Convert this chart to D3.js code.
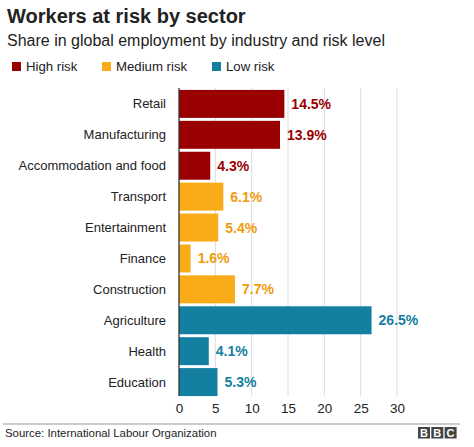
<!DOCTYPE html>
<html><head><meta charset="utf-8">
<script src="https://cdn.jsdelivr.net/npm/d3@7"></script>
<style>
body{margin:0;background:#fff;}
svg{display:block;font-family:"Liberation Sans",Arial,Helvetica,sans-serif;}
</style></head>
<body>
<script>
const categories = ["Retail","Manufacturing","Accommodation and food","Transport","Entertainment","Finance","Construction","Agriculture","Health","Education"];
const values = [14.5,13.9,4.3,6.1,5.4,1.6,7.7,26.5,4.1,5.3];
const risks = ["High risk","High risk","High risk","Medium risk","Medium risk","Medium risk","Medium risk","Low risk","Low risk","Low risk"];
const riskLevels = ["High risk","Medium risk","Low risk"];
const riskColors = ["#990000","#FAAB18","#1380A1"];
const xTicks = [0,5,10,15,20,25,30];

const W=474,H=447;
const svg=d3.select("body").append("svg").attr("width",W).attr("height",H);
const color=d3.scaleOrdinal().domain(riskLevels).range(riskColors);
const labelColor=d3.scaleOrdinal().domain(riskLevels).range(["#990000","#F09B0E","#1380A1"]);

svg.append("text").attr("x",7).attr("y",23).attr("font-size",20).attr("font-weight","bold").attr("fill","#222").text("Workers at risk by sector");
svg.append("text").attr("x",7).attr("y",46).attr("font-size",16).attr("fill","#222").text("Share in global employment by industry and risk level");

const legX=[12,102,212];
const leg=svg.selectAll("g.leg").data(riskLevels).join("g").attr("transform",(d,i)=>`translate(${legX[i]},62)`);
leg.append("rect").attr("width",9).attr("height",9).attr("fill",d=>color(d));
leg.append("text").attr("x",14).attr("y",9).attr("font-size",13.2).attr("fill","#222").text(d=>d);

const x=d3.scaleLinear().domain([0,30]).range([179,397]);
const y=d3.scaleBand().domain(categories).range([89,397]).paddingInner(0.095).paddingOuter(0.03);

const grid=svg.append("g");
grid.selectAll("line").data(xTicks.slice(1)).join("line")
 .attr("x1",d=>x(d)).attr("x2",d=>x(d)).attr("y1",88).attr("y2",396)
 .attr("stroke","#dcdcdc").attr("stroke-width",1);

svg.append("g").selectAll("rect").data(categories).join("rect")
 .attr("x",x(0)).attr("y",d=>y(d)).attr("height",y.bandwidth())
 .attr("width",(d,i)=>x(values[i])-x(0)).attr("fill",(d,i)=>color(risks[i]));

svg.append("g").selectAll("text").data(categories).join("text")
 .attr("x",(d,i)=>x(values[i])+7).attr("y",d=>y(d)+y.bandwidth()/2+5)
 .attr("font-size",14).attr("font-weight","bold").attr("fill",(d,i)=>labelColor(risks[i]))
 .text((d,i)=>values[i].toFixed(1)+"%");

svg.append("g").selectAll("text").data(categories).join("text")
 .attr("x",166).attr("y",d=>y(d)+y.bandwidth()/2+4.5).attr("text-anchor","end")
 .attr("font-size",13).attr("fill","#222").text(d=>d);

svg.append("line").attr("x1",x(0)).attr("x2",x(0)).attr("y1",88).attr("y2",396).attr("stroke","#333").attr("stroke-width",1.3);

const ax=svg.append("g").attr("transform","translate(0,396)")
 .call(d3.axisBottom(x).tickValues(xTicks).tickSize(0).tickPadding(7));
ax.select(".domain").remove();
ax.selectAll("text").attr("font-size",13.5).attr("fill","#222").attr("font-family","Liberation Sans,Arial,sans-serif");

svg.append("line").attr("x1",3).attr("x2",460).attr("y1",424).attr("y2",424).attr("stroke","#999").attr("stroke-width",1);
svg.append("text").attr("x",5).attr("y",437).attr("font-size",11.4).attr("fill","#222").text("Source: International Labour Organization");

const bbc=svg.append("g").attr("transform","translate(418,427)");
["B","B","C"].forEach((c,i)=>{
 bbc.append("rect").attr("x",i*13.3).attr("y",0).attr("width",12).attr("height",11.5).attr("fill","#444");
 bbc.append("text").attr("x",i*13.3+6).attr("y",10).attr("text-anchor","middle").attr("font-size",11).attr("font-weight","bold").attr("fill","#fff").text(c);
});
</script>
</body></html>
